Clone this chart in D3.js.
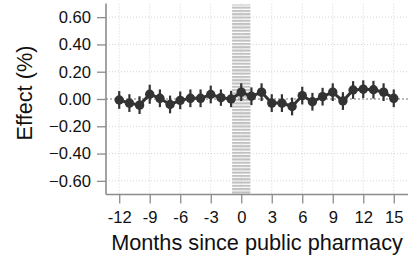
<!DOCTYPE html>
<html><head><meta charset="utf-8">
<script src="https://cdn.jsdelivr.net/npm/d3@7"></script>
<style>html,body{margin:0;padding:0;background:#fff;}svg{display:block;}</style>
</head><body><div id="chart"></div>
<script>
const months = [-12,-11,-10,-9,-8,-7,-6,-5,-4,-3,-2,-1,0,1,2,3,4,5,6,7,8,9,10,11,12,13,14,15];
const effect = [-0.007,-0.03,-0.045,0.035,0.005,-0.04,-0.01,0.005,0.005,0.033,0.01,0.0,0.05,0.02,0.05,-0.03,-0.03,-0.055,0.025,-0.02,0.017,0.05,-0.015,0.066,0.072,0.068,0.05,0.005];
const ciHalf = [0.065,0.065,0.065,0.07,0.065,0.065,0.065,0.065,0.065,0.065,0.06,0.06,0.065,0.065,0.065,0.065,0.065,0.065,0.065,0.065,0.065,0.065,0.065,0.065,0.065,0.065,0.065,0.065];
const yTicks = [-0.6,-0.4,-0.2,0,0.2,0.4,0.6];
const xTicks = [-12,-9,-6,-3,0,3,6,9,12,15];

const W=408,H=262;
const FONT="Liberation Sans, Arial, sans-serif";
const svg=d3.select("#chart").append("svg").attr("width",W).attr("height",H);
const x=d3.scaleLinear().domain([-13.3,16.4]).range([106,408]);
const y=d3.scaleLinear().domain([-0.7,0.7]).range([194.5,3.5]);

const defs=svg.append("defs");
const pat=defs.append("pattern").attr("id","stripes").attr("patternUnits","userSpaceOnUse")
  .attr("width",4).attr("height",3.3);
pat.append("rect").attr("width",4).attr("height",3.3).attr("fill","#fff");
pat.append("rect").attr("width",4).attr("height",2.1).attr("fill","#c0c0c0");

// band around 0
svg.append("rect").attr("x",x(-0.9)).attr("width",x(0.9)-x(-0.9))
  .attr("y",y(0.7)+1).attr("height",y(-0.7)-y(0.7)-1).attr("fill","url(#stripes)");

// grid
const g=svg.append("g");
g.selectAll(".hg").data(yTicks.filter(d=>d!==0)).join("line")
  .attr("x1",x.range()[0]).attr("x2",W).attr("y1",d=>y(d)).attr("y2",d=>y(d))
  .attr("stroke","#d4d4d4").attr("stroke-width",1).attr("stroke-dasharray","1,2");
g.selectAll(".vg").data(xTicks).join("line")
  .attr("y1",y(0.7)).attr("y2",y(-0.7)).attr("x1",d=>x(d)).attr("x2",d=>x(d))
  .attr("stroke","#d4d4d4").attr("stroke-width",1).attr("stroke-dasharray","1,2");
// zero line
svg.append("line").attr("x1",x.range()[0]).attr("x2",W).attr("y1",y(0)).attr("y2",y(0))
  .attr("stroke","#777").attr("stroke-width",1.2).attr("stroke-dasharray","2,2");

// axes
const yAxis=svg.append("g").attr("transform",`translate(${x.range()[0]},0)`)
  .call(d3.axisLeft(y).tickValues(yTicks).tickSize(9).tickPadding(6).tickFormat(d3.format(".2f")));
const xAxis=svg.append("g").attr("transform",`translate(0,${y.range()[0]})`)
  .call(d3.axisBottom(x).tickValues(xTicks).tickSize(9).tickPadding(8).tickFormat(d=>d));
[yAxis,xAxis].forEach(a=>{
  a.select(".domain").attr("stroke","#8c8c8c").attr("stroke-width",1.6);
  a.selectAll(".tick line").attr("stroke","#8c8c8c").attr("stroke-width",1.3);
  a.selectAll("text").attr("font-family",FONT).attr("font-size",16.6).attr("fill","#111");
});
yAxis.select(".domain").attr("d",`M0,${y.range()[1]}V${y.range()[0]}`);
xAxis.select(".domain").attr("d",`M${x.range()[0]},0H${W}`);

// error bars
const data=months.map((m,i)=>({m,v:effect[i],c:ciHalf[i]}));
svg.selectAll(".eb").data(data).join("line")
  .attr("x1",d=>x(d.m)).attr("x2",d=>x(d.m)).attr("y1",d=>y(d.v-d.c)).attr("y2",d=>y(d.v+d.c))
  .attr("stroke","#333").attr("stroke-width",2.2);
svg.append("path").datum(data).attr("fill","none").attr("stroke","#333").attr("stroke-width",3)
  .attr("d",d3.line().x(d=>x(d.m)).y(d=>y(d.v)));
svg.selectAll(".pt").data(data).join("circle")
  .attr("cx",d=>x(d.m)).attr("cy",d=>y(d.v)).attr("r",4.7).attr("fill","#333");

// titles
svg.append("text").attr("x",257).attr("y",250).attr("text-anchor","middle")
  .attr("font-family",FONT).attr("font-size",21.7).attr("fill","#111")
  .text("Months since public pharmacy");
svg.append("text").attr("transform",`translate(32,${y(0)-6}) rotate(-90)`).attr("text-anchor","middle")
  .attr("font-family",FONT).attr("font-size",21.7).attr("fill","#111")
  .text("Effect (%)");
</script></body></html>
